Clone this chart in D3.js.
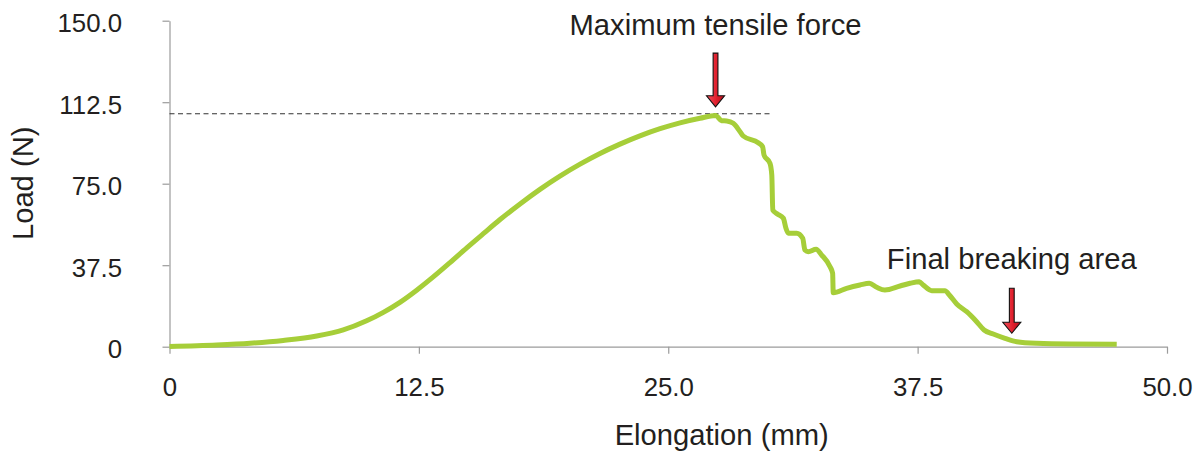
<!DOCTYPE html>
<html>
<head>
<meta charset="utf-8">
<script src="https://cdn.jsdelivr.net/npm/d3@7"></script>
<style>
  html, body { margin: 0; padding: 0; background: #fff; }
  svg { display: block; }
  text { font-family: "Liberation Sans", Arial, Helvetica, sans-serif; fill: #231f20; }
</style>
</head>
<body>
<svg id="chart" width="1199" height="456"></svg>
<script>
// Load–elongation record of a tensile test
const elongation = [
  0.0, 2.37, 4.04, 5.70, 7.38, 8.71, 9.88, 10.72, 11.55, 12.39, 13.22, 14.06,
  14.90, 15.73, 16.57, 17.57, 18.57, 19.57, 20.58, 21.58, 22.58, 23.58, 24.59,
  25.59, 26.59, 27.37,
  27.68, 27.93, 28.26, 28.60, 28.76, 29.51, 29.73, 29.80, 30.10, 30.19, 30.24,
  30.47, 30.77, 30.90, 31.02, 31.44, 31.74, 31.85, 32.02, 32.41, 32.69, 33.11,
  33.24, 33.27, 33.94, 34.61, 35.08, 35.45, 35.86, 36.62, 37.12, 37.58, 37.78,
  38.21, 38.87, 39.09, 39.46, 39.96, 40.46, 40.83, 41.29, 41.88, 42.47, 43.47,
  45.14, 47.48
];
const load = [
  0.1, 0.8, 1.6, 2.9, 4.9, 7.7, 11.9, 15.8, 20.4, 26.0, 32.1, 38.7,
  45.5, 52.0, 58.5, 65.7, 72.4, 78.5, 84.0, 88.9, 93.2, 97.0, 100.3,
  103.0, 105.1, 106.4,
  103.99, 103.85, 102.79, 98.93, 96.95, 93.87, 92.03, 88.21, 84.39, 79.00, 62.90,
  61.06, 59.08, 54.48, 52.18, 52.18, 49.88, 44.49, 43.71, 44.82, 42.19, 36.81,
  33.77, 24.85, 26.87, 28.39, 29.17, 27.33, 26.09, 27.93, 29.17, 29.91, 28.39,
  25.77, 25.77, 23.79, 19.65, 16.10, 11.50, 7.68, 5.84, 3.87, 2.30, 1.56,
  1.24, 1.15
];

// Axis ticks
const xTicks = [0, 12.5, 25, 37.5, 50];
const xTickLabels = ["0", "12.5", "25.0", "37.5", "50.0"];
const yTicks = [0, 37.5, 75, 112.5, 150];
const yTickLabels = ["0", "37.5", "75.0", "112.5", "150.0"];

// Reference line at the maximum tensile force, and the two call-outs
const maxForceLine = { value: 107.2, from: 0, to: 30.13 };
const annotations = [
  { label: "Maximum tensile force", x: 27.37, top: 135.1, tip: 110.4, labelY: 143.4 },
  { label: "Final breaking area", x: 42.22, top: 26.9, tip: 6.2, labelY: 35.6 }
];

const svg = d3.select("#chart");

const x = d3.scaleLinear().domain([0, 50]).range([169.5, 1167]);
const y = d3.scaleLinear().domain([0, 150]).range([346.7, 20.7]);

const axisColor = "#9b9b9b";
const tickFont = 25.8;
const titleFont = 29.2;

// Y axis
const yAxis = svg.append("g")
  .attr("transform", `translate(${x(0)},0)`)
  .call(d3.axisLeft(y).tickValues(yTicks)
    .tickFormat((d, i) => yTickLabels[i])
    .tickSize(7).tickSizeOuter(0).tickPadding(40.5));
yAxis.select(".domain").attr("stroke", axisColor).attr("stroke-width", 1.2);
yAxis.selectAll(".tick line").attr("stroke", axisColor).attr("stroke-width", 1.2);
yAxis.selectAll(".tick text")
  .attr("font-size", tickFont).attr("dy", "0.42em")
  .attr("font-family", "'Liberation Sans', Arial, sans-serif")
  .attr("fill", "#111");

// X axis
const xAxis = svg.append("g")
  .attr("transform", `translate(0,${y(0)})`)
  .call(d3.axisBottom(x).tickValues(xTicks)
    .tickFormat((d, i) => xTickLabels[i])
    .tickSize(7).tickSizeOuter(0).tickPadding(23.5));
xAxis.select(".domain").attr("stroke", axisColor).attr("stroke-width", 1.2);
xAxis.selectAll(".tick line").attr("stroke", axisColor).attr("stroke-width", 1.2);
xAxis.selectAll(".tick text")
  .attr("font-size", tickFont).attr("dy", "0.71em")
  .attr("font-family", "'Liberation Sans', Arial, sans-serif")
  .attr("fill", "#111");

// Axis titles
svg.append("text")
  .attr("x", 721.7).attr("y", 444.5)
  .attr("text-anchor", "middle")
  .attr("font-size", titleFont)
  .text("Elongation (mm)");

svg.append("text")
  .attr("transform", "translate(33.3,183.3) rotate(-90)")
  .attr("text-anchor", "middle")
  .attr("font-size", titleFont)
  .text("Load (N)");

// Dashed line at the peak load
svg.append("line")
  .attr("x1", x(maxForceLine.from)).attr("x2", x(maxForceLine.to))
  .attr("y1", y(maxForceLine.value)).attr("y2", y(maxForceLine.value))
  .attr("stroke", "#333").attr("stroke-width", 1.1)
  .attr("stroke-dasharray", "5,3.5");

// Load curve
const points = elongation.map((e, i) => [e, load[i]]);
const line = d3.line()
  .x(d => x(d[0]))
  .y(d => y(d[1]))
  .curve(d3.curveMonotoneX);

svg.append("path")
  .datum(points)
  .attr("d", line)
  .attr("fill", "none")
  .attr("stroke", "#a6ce39")
  .attr("stroke-width", 5)
  .attr("stroke-linejoin", "round")
  .attr("stroke-linecap", "butt");

// Arrow fill
const defs = svg.append("defs");
const grad = defs.append("linearGradient")
  .attr("id", "arrowFill").attr("x1", "0").attr("x2", "1").attr("y1", "0").attr("y2", "0");
grad.append("stop").attr("offset", "0%").attr("stop-color", "#f0505c");
grad.append("stop").attr("offset", "55%").attr("stop-color", "#e01f2d");
grad.append("stop").attr("offset", "100%").attr("stop-color", "#b3101c");

// Call-out arrows and their labels
annotations.forEach(a => {
  const cx = x(a.x);
  const top = y(a.top);
  const tip = y(a.tip);
  const headH = 11;
  const headW = 9;
  const shaftW = 2.4;
  const path = [
    [cx - shaftW, top], [cx + shaftW, top],
    [cx + shaftW, tip - headH], [cx + headW, tip - headH],
    [cx, tip],
    [cx - headW, tip - headH], [cx - shaftW, tip - headH]
  ];
  svg.append("path")
    .attr("d", "M" + path.map(p => p.join(",")).join("L") + "Z")
    .attr("fill", "url(#arrowFill)")
    .attr("stroke", "#111")
    .attr("stroke-width", 1.1)
    .attr("stroke-linejoin", "miter");

  svg.append("text")
    .attr("x", cx).attr("y", y(a.labelY))
    .attr("text-anchor", "middle")
    .attr("font-size", titleFont)
    .text(a.label);
});
</script>
</body>
</html>
